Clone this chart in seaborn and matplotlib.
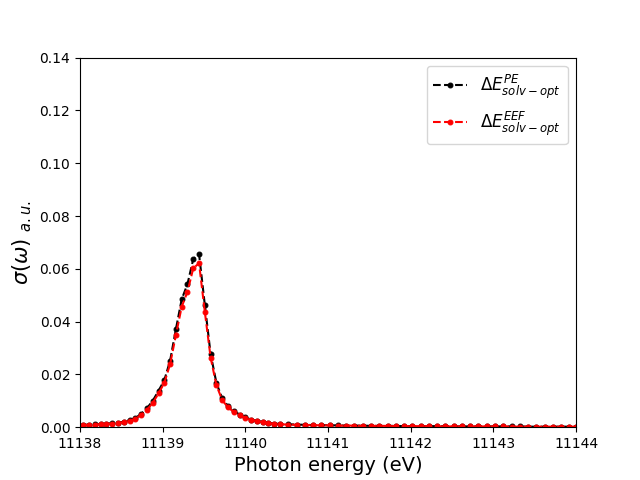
import numpy as np
import pandas as pd
import matplotlib
matplotlib.use("Agg")
import matplotlib.pyplot as plt
import seaborn as sns

# photon energy grid (eV)
energy = [
    11138.04, 11138.11, 11138.18, 11138.25, 11138.32, 11138.39, 11138.46, 11138.53,
    11138.60, 11138.67, 11138.74, 11138.81, 11138.88, 11138.95, 11139.02, 11139.09,
    11139.16, 11139.23, 11139.30, 11139.37, 11139.44, 11139.51, 11139.58, 11139.65,
    11139.72, 11139.79, 11139.86, 11139.93, 11140.00, 11140.07, 11140.14, 11140.21,
    11140.28, 11140.35, 11140.42, 11140.52, 11140.62, 11140.72, 11140.82, 11140.92,
    11141.02, 11141.12, 11141.22, 11141.32, 11141.42, 11141.52, 11141.62, 11141.72,
    11141.82, 11141.92, 11142.02, 11142.12, 11142.22, 11142.32, 11142.42, 11142.52,
    11142.62, 11142.72, 11142.82, 11142.92, 11143.02, 11143.12, 11143.22, 11143.32,
    11143.42, 11143.52, 11143.62, 11143.72, 11143.82, 11143.92, 11144.00,
]

# sigma(omega), PE solvation
sigma_pe = [
    0.0009, 0.0010, 0.0011, 0.0012, 0.0013, 0.0015, 0.0017, 0.0021,
    0.0026, 0.0035, 0.0050, 0.0072, 0.0100, 0.0138, 0.0178, 0.0252,
    0.0371, 0.0484, 0.0542, 0.0637, 0.0656, 0.0463, 0.0277, 0.0168,
    0.0109, 0.0080, 0.0062, 0.0048, 0.0037, 0.0029, 0.0024, 0.0020,
    0.0016, 0.0014, 0.0012, 0.0011, 0.0010, 0.0009, 0.0008, 0.0008,
    0.0007, 0.0007, 0.0006, 0.0006, 0.0006, 0.0005, 0.0005, 0.0005,
    0.0005, 0.0004, 0.0004, 0.0004, 0.0004, 0.0004, 0.0004, 0.0003,
    0.0003, 0.0003, 0.0003, 0.0003, 0.0003, 0.0003, 0.0003, 0.0003,
    0.0002, 0.0002, 0.0002, 0.0002, 0.0002, 0.0002, 0.0002,
]

# sigma(omega), EEF solvation
sigma_eef = [
    0.0008, 0.0009, 0.0010, 0.0011, 0.0012, 0.0014, 0.0016, 0.0019,
    0.0024, 0.0032, 0.0046, 0.0066, 0.0092, 0.0128, 0.0168, 0.0239,
    0.0349, 0.0456, 0.0513, 0.0602, 0.0621, 0.0437, 0.0264, 0.0159,
    0.0103, 0.0075, 0.0058, 0.0045, 0.0035, 0.0028, 0.0023, 0.0019,
    0.0015, 0.0013, 0.0011, 0.0010, 0.0009, 0.0008, 0.0008, 0.0007,
    0.0007, 0.0006, 0.0006, 0.0006, 0.0005, 0.0005, 0.0005, 0.0005,
    0.0004, 0.0004, 0.0004, 0.0004, 0.0004, 0.0003, 0.0003, 0.0003,
    0.0003, 0.0003, 0.0003, 0.0003, 0.0003, 0.0003, 0.0002, 0.0002,
    0.0002, 0.0002, 0.0002, 0.0002, 0.0002, 0.0002, 0.0002,
]

labels = [r'$\Delta E^{PE}_{solv-opt}$', r'$\Delta E^{EEF}_{solv-opt}$']

df = pd.DataFrame({'energy': energy, 'pe': sigma_pe, 'eef': sigma_eef})

fig, ax = plt.subplots(figsize=(6.4, 4.8), dpi=100)

sns.lineplot(data=df, x='energy', y='pe', ax=ax, color='black', linestyle='--',
             marker='.', markersize=7, markeredgecolor='black', label=labels[0])
sns.lineplot(data=df, x='energy', y='eef', ax=ax, color='red', linestyle='--',
             marker='.', markersize=7, markeredgecolor='red', label=labels[1])

ax.set_xlim(11138, 11144)
ax.set_ylim(0, 0.14)
ax.ticklabel_format(axis='x', useOffset=False)
ax.set_xlabel('Photon energy (eV)', fontsize=14)
ax.set_ylabel(r'$\sigma(\omega)$ $_{a.u.}$', fontsize=15)
ax.legend(loc='upper right', fontsize=12)

fig.savefig('out.png', dpi=100)
